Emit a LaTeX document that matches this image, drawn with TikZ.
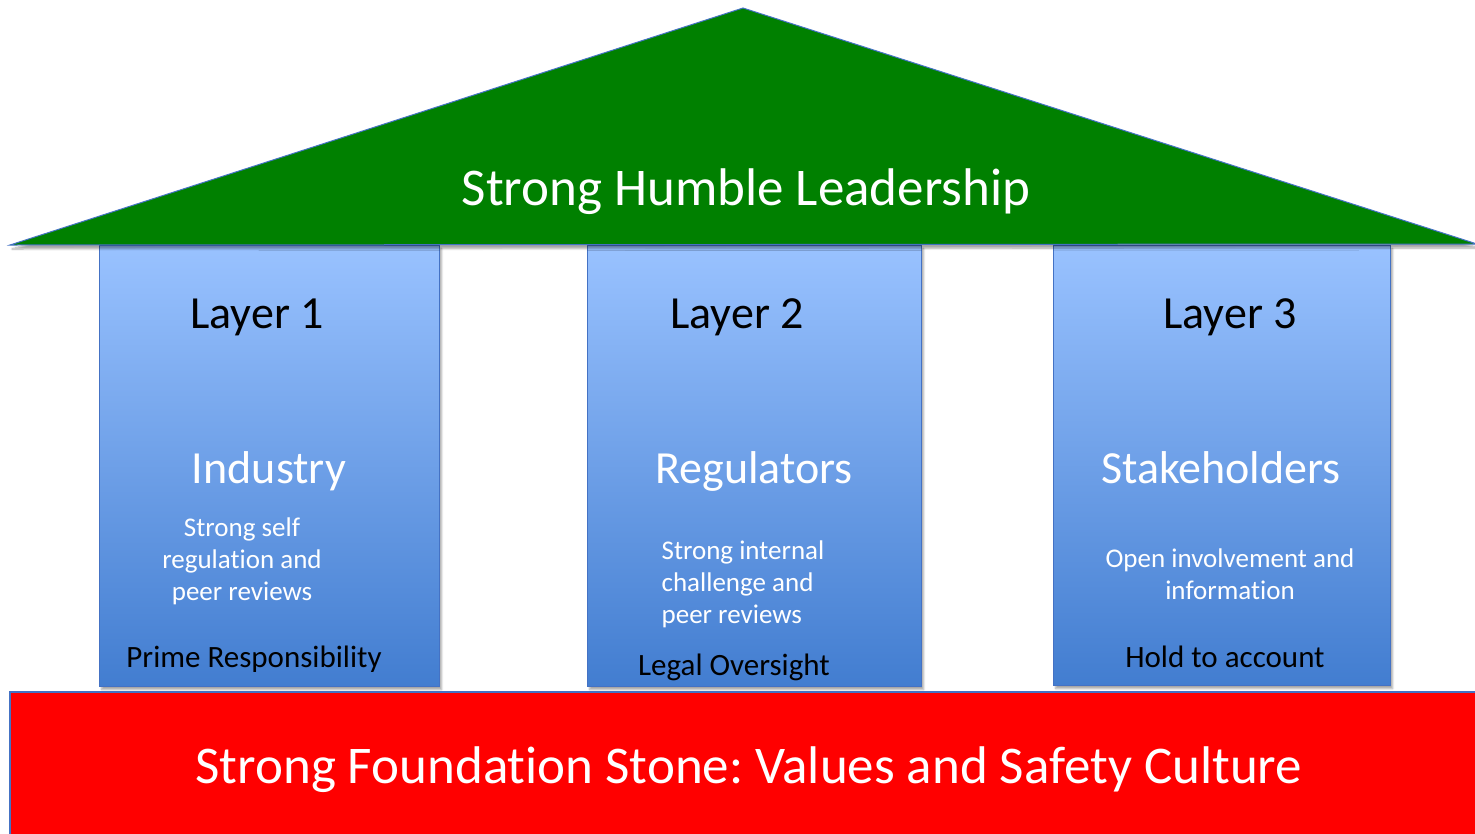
\documentclass[tikz,border=0pt]{standalone}
\usepackage{fontspec}
\setmainfont{Carlito}[Ligatures={NoCommon}]
\usepackage{tikz}
\usetikzlibrary{shadows,shadows.blur}
\frenchspacing

\definecolor{roofgreen}{RGB}{0,128,0}
\definecolor{edgeblue}{RGB}{68,114,196}
\definecolor{pillartop}{RGB}{153,194,255}
\definecolor{pillarbot}{RGB}{66,125,208}
\definecolor{stonered}{RGB}{255,0,0}

\tikzset{
    pillar/.style={draw=edgeblue, line width=1.2pt, top color=pillartop, bottom color=pillarbot,
        blur shadow={shadow xshift=2pt, shadow yshift=-3pt, shadow blur steps=6, shadow opacity=35},
        inner sep=0pt, anchor=north west},
    layertext/.style={font=\fontsize{46}{55}\selectfont, anchor=base},
    sidetext/.style={font=\fontsize{27}{32}\selectfont, white, anchor=base},
    bottext/.style={font=\fontsize{31}{37}\selectfont, anchor=base},
    bigtext/.style={font=\fontsize{53}{63}\selectfont, white, anchor=base}
}

\begin{document}
\begin{tikzpicture}[x=1pt,y=-1pt]
    \useasboundingbox (0,0) rectangle (1475,833);
    % pillars
    \node[pillar, minimum width=340pt, minimum height=441pt] (p1) at (99,245) {};
    \node[pillar, minimum width=334pt, minimum height=441pt] (p2) at (587,245) {};
    \node[pillar, minimum width=337pt, minimum height=440pt] (p3) at (1053,245) {};

    % roof and foundation
    \draw[fill=roofgreen, draw=edgeblue, line width=1pt,
        blur shadow={shadow xshift=2pt, shadow yshift=-4pt, shadow blur steps=6, shadow opacity=35}]
        (10,245) -- (743,8) -- (1477,244) -- cycle;
    \draw[fill=stonered, draw=edgeblue, line width=1.2pt] (10,692) rectangle (1480,840);

    \node[bigtext] (roof) at (746,205) {Strong Humble Leadership};
    \node[bigtext] (stone) at (749,783) {Strong Foundation Stone: Values and Safety Culture};

    \node[layertext] (l1) at (257,328) {Layer 1};
    \node[layertext] (l2) at (737,328) {Layer 2};
    \node[layertext] (l3) at (1230,328) {Layer 3};

    \node[layertext, white] (ind) at (269,483) {Industry};
    \node[layertext, white] (reg) at (754,483) {Regulators};
    \node[layertext, white] (stk) at (1221,483) {Stakeholders};

    \node[sidetext, align=center, anchor=north] (ind-t) at (242,514) {Strong self\\regulation and\\peer reviews};
    \node[sidetext, align=left, anchor=north] (reg-t) at (743,537) {Strong internal\\challenge and\\peer reviews};
    \node[sidetext, align=center, anchor=north] (stk-t) at (1230,545) {Open involvement and\\information};

    \node[bottext] (ind-b) at (254,667) {Prime Responsibility};
    \node[bottext] (reg-b) at (734,675) {Legal Oversight};
    \node[bottext] (stk-b) at (1225,667) {Hold to account};
\end{tikzpicture}
\end{document}
